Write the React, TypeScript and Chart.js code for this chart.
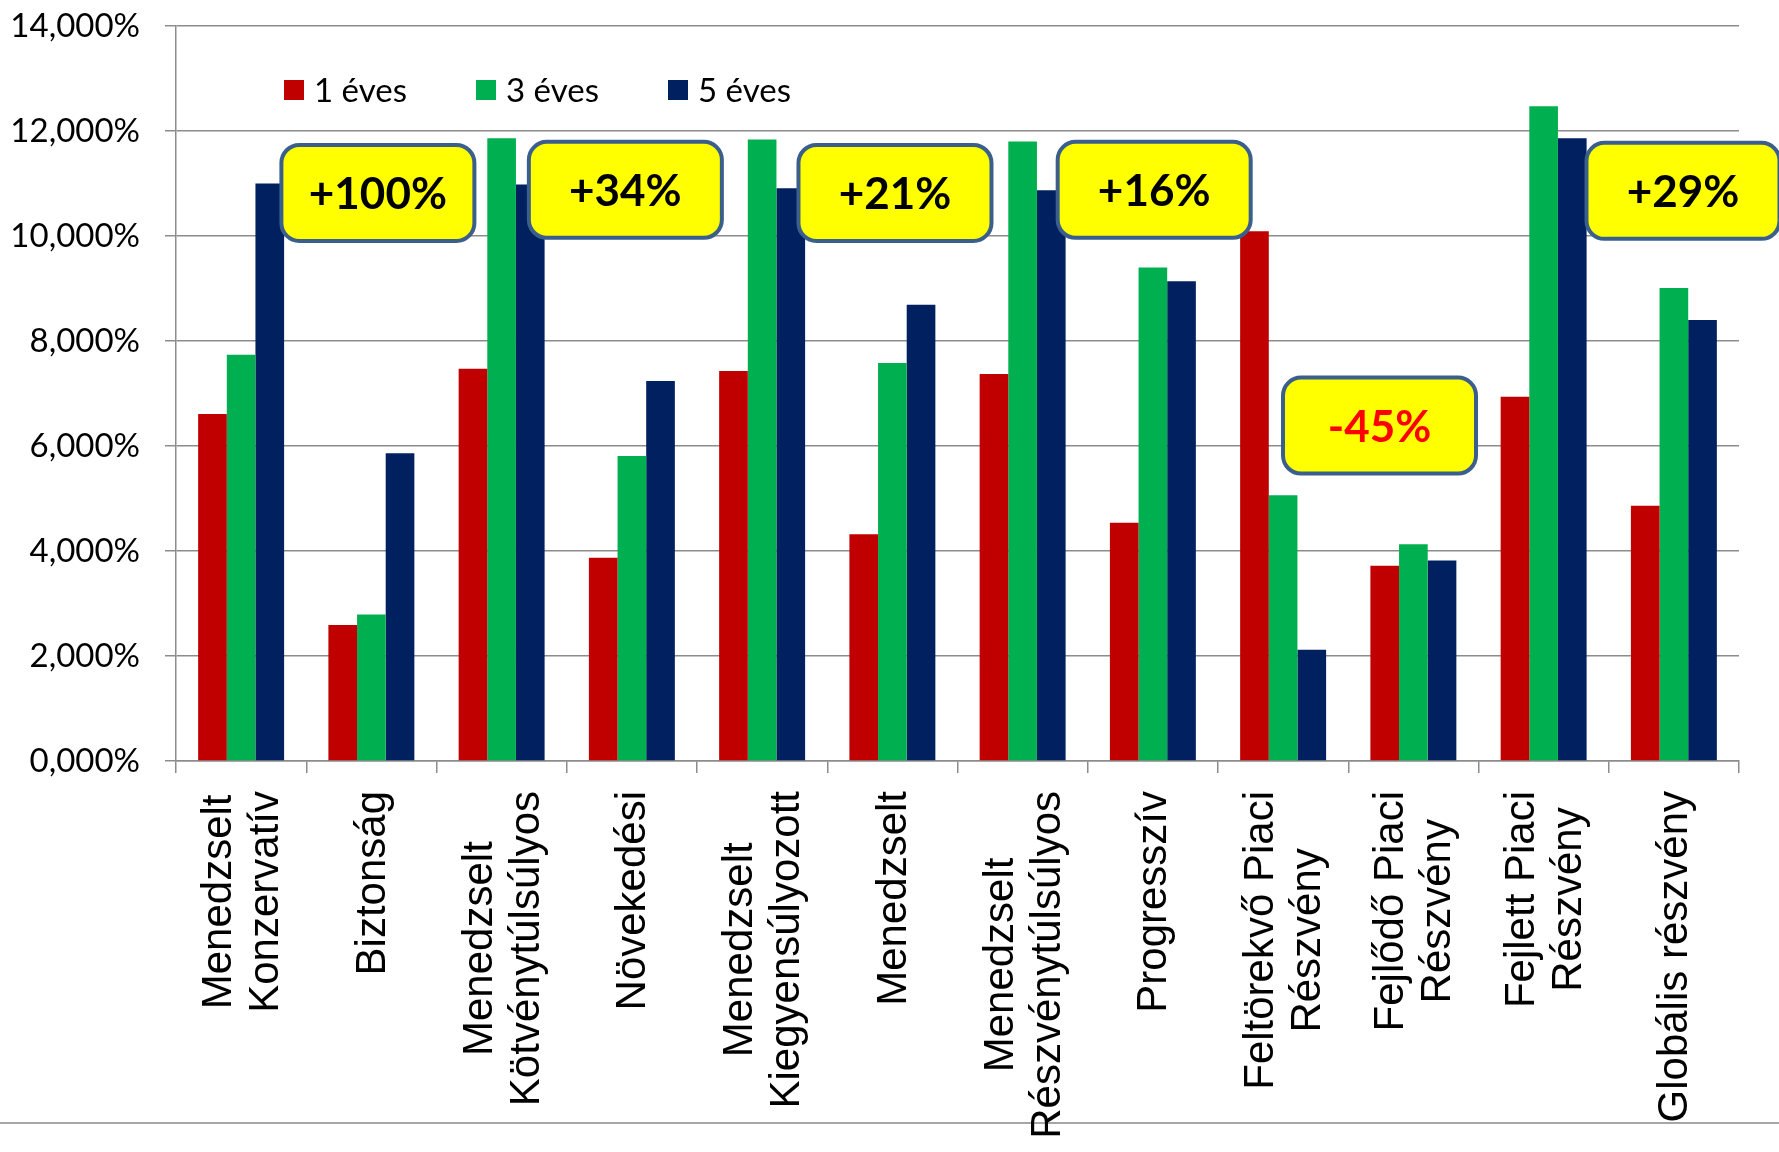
import React, { useEffect, useRef } from "react";
import { Chart, registerables } from "chart.js";

Chart.register(...registerables);

const categories: string[][] = [
  ["Menedzselt", "Konzervatív"],
  ["Biztonság"],
  ["Menedzselt", "Kötvénytúlsúlyos"],
  ["Növekedési"],
  ["Menedzselt", "Kiegyensúlyozott"],
  ["Menedzselt"],
  ["Menedzselt", "Részvénytúlsúlyos"],
  ["Progresszív"],
  ["Feltörekvő Piaci", "Részvény"],
  ["Fejlődő Piaci", "Részvény"],
  ["Fejlett Piaci", "Részvény"],
  ["Globális részvény"],
];

const seriesNames = ["1 éves", "3 éves", "5 éves"];
const seriesColors = ["#C00000", "#00B050", "#002060"];

const oneYear = [6.61, 2.59, 7.47, 3.87, 7.43, 4.32, 7.37, 4.54, 10.09, 3.72, 6.94, 4.86];
const threeYear = [7.74, 2.79, 11.86, 5.81, 11.84, 7.58, 11.8, 9.4, 5.06, 4.13, 12.47, 9.01];
const fiveYear = [11.0, 5.86, 10.98, 7.24, 10.91, 8.69, 10.87, 9.14, 2.12, 3.82, 11.86, 8.4];

// Callout boxes: label, category position, value position
const calloutLabels = ["+100%", "+34%", "+21%", "+16%", "-45%", "+29%"];
const calloutCategoryPos = [1.05, 2.95, 5.02, 7.01, 8.74, 11.07];
const calloutValuePos = [10.82, 10.88, 10.82, 10.88, 6.39, 10.86];
const calloutTextColors = ["#000000", "#000000", "#000000", "#000000", "#FF0000", "#000000"];

const yMin = 0;
const yMax = 14;
const yStep = 2;

const FONT = "Lato, 'Noto Sans', sans-serif";

export default function App() {
  const canvasRef = useRef<HTMLCanvasElement | null>(null);

  useEffect(() => {
    document.body.style.margin = "0";
    const canvas = canvasRef.current;
    if (!canvas) return;

    const separatorPlugin = {
      id: "separator",
      beforeDraw(chart: any) {
        const { ctx, width } = chart;
        ctx.save();
        ctx.strokeStyle = "#A6A6A6";
        ctx.lineWidth = 2;
        ctx.beginPath();
        ctx.moveTo(0, 1123);
        ctx.lineTo(width, 1123);
        ctx.stroke();
        ctx.restore();
      },
    };

    const xLabelPlugin = {
      id: "xLabels",
      afterDraw(chart: any) {
        const { ctx, chartArea } = chart;
        const xScale = chart.scales.x;
        const top = chartArea.bottom + 30;
        const lh = 47;
        ctx.save();
        ctx.font = `42px 'Liberation Sans', Arial, sans-serif`;
        ctx.fillStyle = "#000000";
        ctx.textAlign = "center";
        ctx.textBaseline = "middle";
        categories.forEach((lines, i) => {
          const cx = xScale.getPixelForValue(i);
          const blockW = Math.max(...lines.map((l) => ctx.measureText(l).width));
          const n = lines.length;
          lines.forEach((line, j) => {
            const x = cx + (j - (n - 1) / 2) * lh;
            ctx.save();
            ctx.translate(x, top);
            ctx.rotate(-Math.PI / 2);
            ctx.fillText(line, -blockW / 2, 2);
            ctx.restore();
          });
        });
        ctx.restore();
      },
    };

    const legendPlugin = {
      id: "customLegend",
      afterDraw(chart: any) {
        const { ctx, chartArea } = chart;
        const y = chartArea.top + 64;
        ctx.save();
        ctx.font = `33px ${FONT}`;
        ctx.textBaseline = "middle";
        ctx.textAlign = "left";
        chart.data.datasets.forEach((ds: any, k: number) => {
          const x = chartArea.left + 108 + k * 192;
          ctx.fillStyle = ds.backgroundColor;
          ctx.fillRect(x, y - 10, 20, 20);
          ctx.fillStyle = "#000000";
          ctx.fillText(ds.label, x + 30, y + 1);
        });
        ctx.restore();
      },
    };

    const calloutPlugin = {
      id: "callouts",
      afterDatasetsDraw(chart: any) {
        const { ctx } = chart;
        const xScale = chart.scales.x;
        const yScale = chart.scales.y;
        const w = 193;
        const h = 96;
        ctx.save();
        calloutLabels.forEach((label, i) => {
          const cx = xScale.getPixelForValue(calloutCategoryPos[i]);
          const cy = yScale.getPixelForValue(calloutValuePos[i]);
          ctx.beginPath();
          ctx.roundRect(cx - w / 2, cy - h / 2, w, h, 18);
          ctx.fillStyle = "#FFFF00";
          ctx.fill();
          ctx.lineWidth = 4;
          ctx.strokeStyle = "#3B5F8C";
          ctx.stroke();
          ctx.font = `bold 44px ${FONT}`;
          ctx.fillStyle = calloutTextColors[i];
          ctx.textAlign = "center";
          ctx.textBaseline = "middle";
          ctx.fillText(label, cx, cy + 2);
        });
        ctx.restore();
      },
    };

    const chart = new Chart(canvas, {
      type: "bar",
      data: {
        labels: categories,
        datasets: [oneYear, threeYear, fiveYear].map((vals, k) => ({
          label: seriesNames[k],
          data: vals,
          backgroundColor: seriesColors[k],
          borderWidth: 0,
          categoryPercentage: 0.66,
          barPercentage: 1.0,
        })),
      },
      options: {
        animation: false,
        responsive: true,
        maintainAspectRatio: false,
        layout: { padding: { top: 26, right: 40, left: 0, bottom: 0 } },
        plugins: {
          legend: { display: false },
          tooltip: { enabled: false },
        },
        scales: {
          x: {
            offset: true,
            grid: {
              display: true,
              offset: true,
              drawOnChartArea: false,
              drawTicks: true,
              tickLength: 12,
              color: "#8C8C8C",
              lineWidth: 1.5,
            },
            border: { display: true, color: "#8C8C8C", width: 1.5 },
            ticks: { display: false },
            afterFit(scale: any) {
              scale.height = 391;
              scale.paddingLeft = 0;
              scale.paddingRight = 0;
            },
          },
          y: {
            min: yMin,
            max: yMax,
            ticks: {
              stepSize: yStep,
              padding: 25,
              color: "#000000",
              font: { family: FONT, size: 33 },
              callback: (v: any) => Number(v).toFixed(3).replace(".", ",") + "%",
            },
            grid: {
              color: "#8C8C8C",
              lineWidth: 1.5,
              tickLength: 11,
              drawTicks: true,
            },
            border: { display: true, color: "#8C8C8C", width: 1.5 },
            afterFit(scale: any) {
              scale.width = 176;
              scale.paddingTop = 0;
              scale.paddingBottom = 0;
            },
          },
        },
      },
      plugins: [separatorPlugin, xLabelPlugin, legendPlugin, calloutPlugin],
    });

    return () => chart.destroy();
  }, []);

  return (
    <div style={{ width: "1779px", height: "1152px", position: "relative", background: "#FFFFFF" }}>
      <canvas ref={canvasRef} />
    </div>
  );
}
